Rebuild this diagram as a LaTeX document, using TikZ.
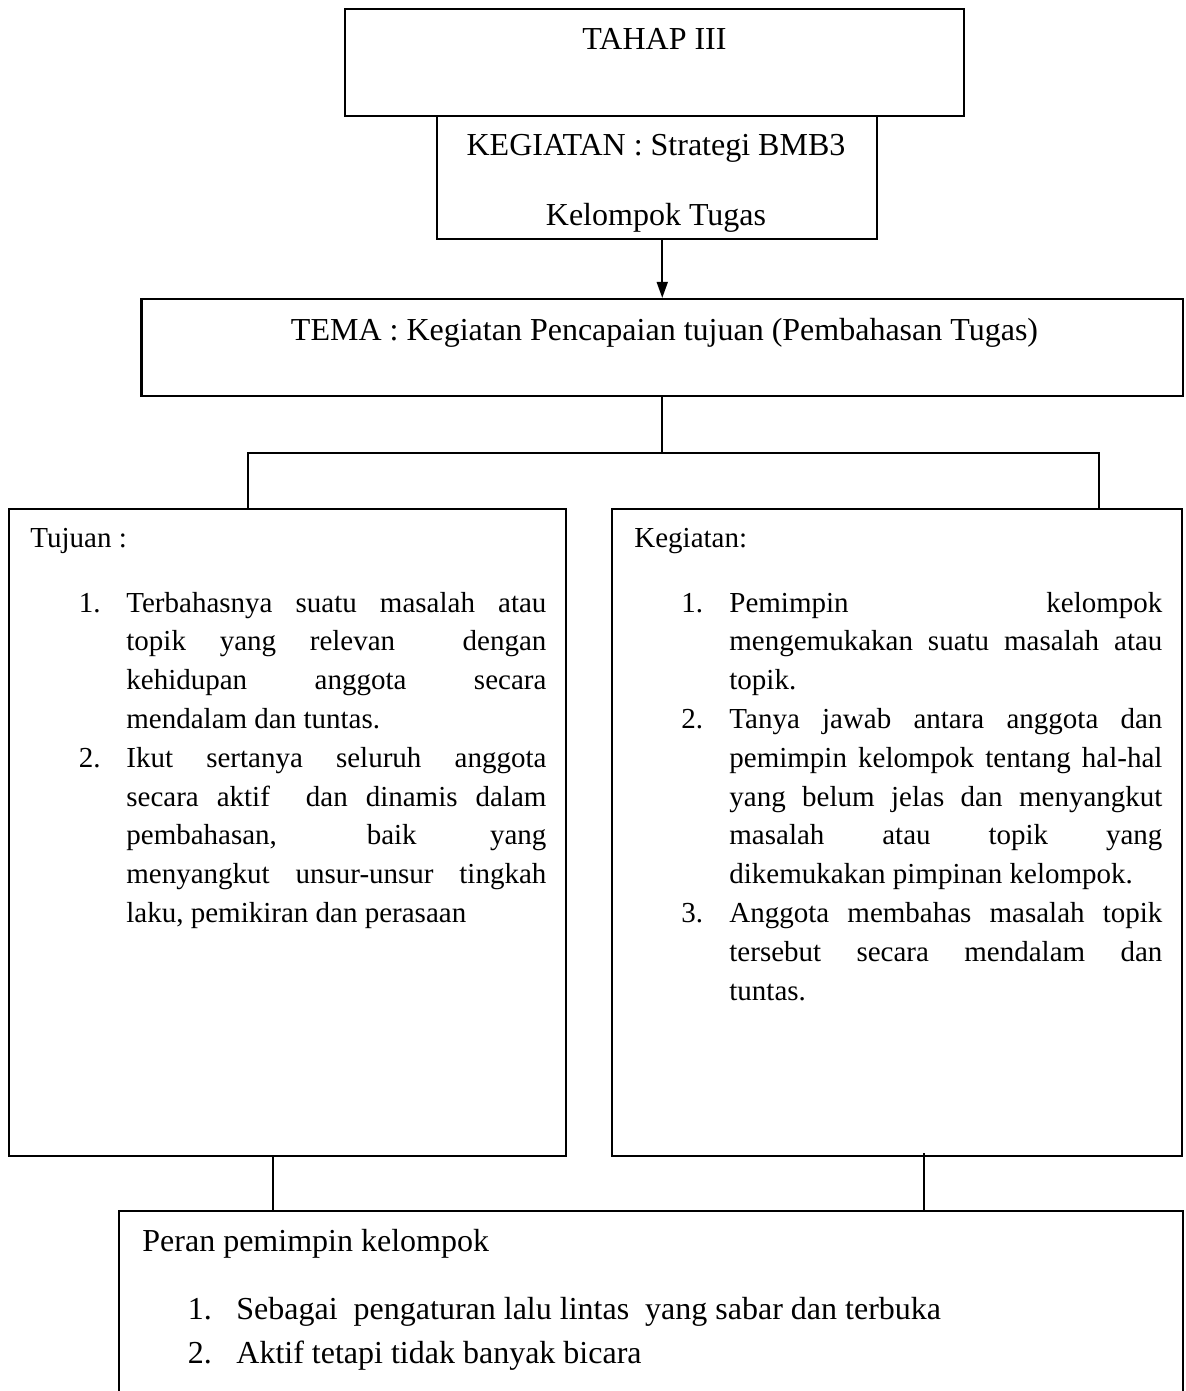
\documentclass[tikz,border=0pt]{standalone}
\usepackage{fontspec}
\setmainfont{Liberation Serif}
\usetikzlibrary{arrows.meta,fit}
\newcommand{\jl}[2]{\makebox[#1][s]{#2}}
\begin{document}
\begin{tikzpicture}[x=0.5pt,y=-0.5pt,
  boxshape/.style={draw, line width=1.1pt, inner sep=0pt, rectangle},
  conn/.style={line width=0.9pt},
  hfont/.style={font=\fontsize{16}{19.2}\selectfont, inner sep=0pt, anchor=base},
  sfont/.style={font=\fontsize{14.5}{19.4}\selectfont, inner sep=0pt, anchor=base west},
  bfont/.style={font=\fontsize{16}{22}\selectfont, inner sep=0pt, anchor=base west},
]
\useasboundingbox (0,0) rectangle (1185,1391);
\clip (0,0) rectangle (1185,1391);

% boxes
\node[boxshape, fit={(345,9) (964,116)}] (tahap) {};
\node[boxshape, fill=white, fit={(437,116) (877,239)}] (keg) {};
\node[boxshape, fit={(141.5,299) (1183,396)}] (tema) {};
\node[boxshape, fit={(9,509) (566,1156)}] (left) {};
\node[boxshape, fit={(612,509) (1182,1156)}] (right) {};
\node[boxshape, fit={(119,1211) (1183,1430)}] (bottom) {};

% headings
\node[hfont] (t1) at (654.5,50) {TAHAP III};
\node[hfont] (t2) at (656,156) {KEGIATAN : Strategi BMB3};
\node[hfont] (t3) at (656,226) {Kelompok Tugas};
\node[hfont] (t4) at (664.5,340) {TEMA : Kegiatan Pencapaian tujuan (Pembahasan Tugas)};

% left box
\node[sfont] (lh) at (30,547) {Tujuan :};
\node[sfont] (ln1) at (78.5,612) {1.};
\node[sfont] (li1) at (126,612) {\parbox[t]{210pt}{%
\jl{210pt}{Terbahasnya suatu masalah atau}\\
\jl{210pt}{topik yang relevan\ \ dengan}\\
\jl{210pt}{kehidupan anggota secara}\\
mendalam dan tuntas.}};
\node[sfont] (ln2) at (78.5,767.2) {2.};
\node[sfont] (li2) at (126,767.2) {\parbox[t]{210pt}{%
\jl{210pt}{Ikut sertanya seluruh anggota}\\
\jl{210pt}{secara aktif\ \ dan dinamis dalam}\\
\jl{210pt}{pembahasan, baik yang}\\
\jl{210pt}{menyangkut unsur-unsur tingkah}\\
laku, pemikiran dan perasaan}};

% right box
\node[sfont] (rh) at (634,547) {Kegiatan:};
\node[sfont] (rn1) at (681,612) {1.};
\node[sfont] (ri1) at (729,612) {\parbox[t]{216.5pt}{%
\jl{216.5pt}{Pemimpin kelompok}\\
\jl{216.5pt}{mengemukakan suatu masalah atau}\\
topik.}};
\node[sfont] (rn2) at (681,728.4) {2.};
\node[sfont] (ri2) at (729,728.4) {\parbox[t]{216.5pt}{%
\jl{216.5pt}{Tanya jawab antara anggota dan}\\
\jl{216.5pt}{pemimpin kelompok tentang hal-hal}\\
\jl{216.5pt}{yang belum jelas dan menyangkut}\\
\jl{216.5pt}{masalah atau topik yang}\\
dikemukakan pimpinan kelompok.}};
\node[sfont] (rn3) at (681,922.4) {3.};
\node[sfont] (ri3) at (729,922.4) {\parbox[t]{216.5pt}{%
\jl{216.5pt}{Anggota membahas masalah topik}\\
\jl{216.5pt}{tersebut secara mendalam dan}\\
tuntas.}};

% bottom box
\node[bfont] (bh) at (142,1251) {Peran pemimpin kelompok};
\node[bfont] (bn1) at (187.5,1319) {1.};
\node[bfont] (bi1) at (236,1319) {Sebagai\ \ pengaturan lalu lintas\ \ yang sabar dan terbuka};
\node[bfont] (bn2) at (187.5,1363) {2.};
\node[bfont] (bi2) at (236,1363) {Aktif tetapi tidak banyak bicara};

% connectors
\draw[conn, -{Triangle[length=8pt,width=5.5pt]}] (keg.south -| tema.north) -- (tema.north);
\coordinate (bl) at (248,453);
\coordinate (br) at (1099,453);
\draw[conn] (tema.south) -- (tema.south |- bl);
\draw[conn] (left.north -| bl) -- (bl) -- (br) -- (right.north -| br);
\coordinate (cl) at (273,1156);
\coordinate (cr) at (924,1153);
\draw[conn] (left.south -| cl) -- (bottom.north -| cl);
\draw[conn] (cr) -- (bottom.north -| cr);
\end{tikzpicture}
\end{document}
